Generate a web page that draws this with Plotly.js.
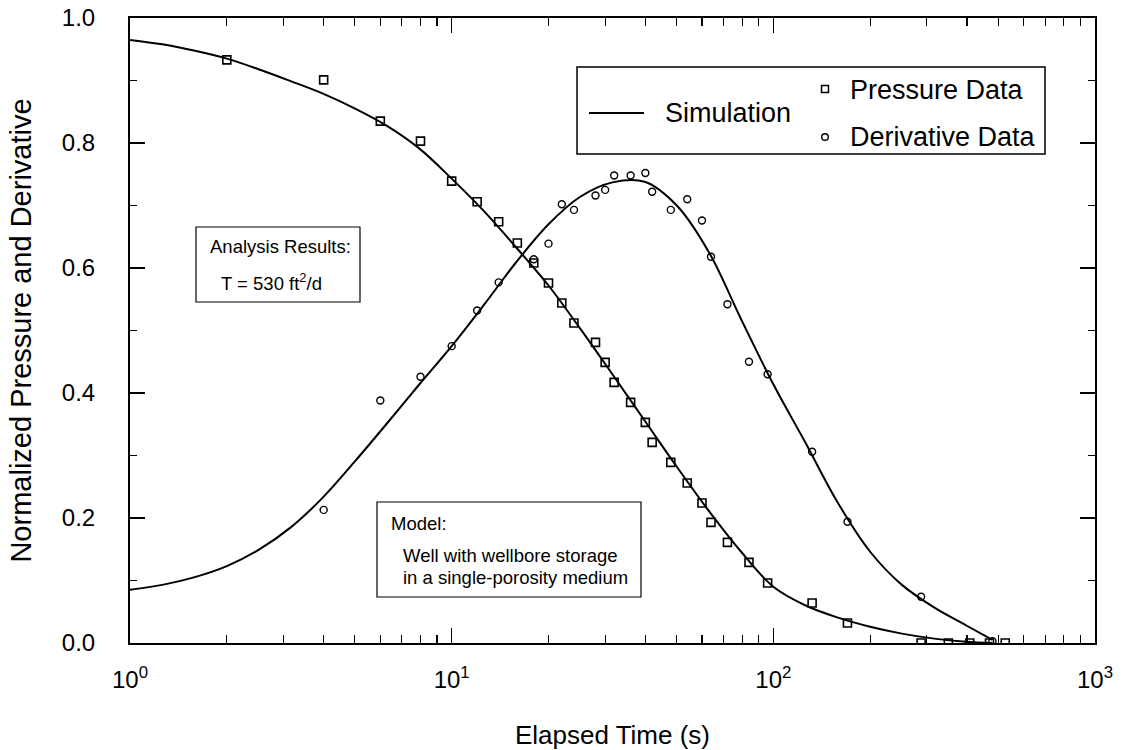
<!DOCTYPE html>
<html><head><meta charset="utf-8">
<script src="https://cdn.plot.ly/plotly-3.0.1.min.js"></script>
<style>html,body{margin:0;padding:0;background:#fff;}#chart{width:1122px;height:750px;}</style>
</head><body><div id="chart"></div>
<script>
// ---- data ----
const pressureTime = [2,4,6,8,10,12,14,16,18,20,22,24,28,30,32,36,40,42,48,54,60,64,72,84,96,132,170,288,350,408,470,526];
const pressureData = [0.933,0.901,0.835,0.803,0.739,0.706,0.674,0.640,0.608,0.576,0.544,0.512,0.481,0.449,0.417,0.385,0.353,0.321,0.289,0.256,0.224,0.193,0.161,0.129,0.096,0.064,0.032,0.0,0.0,0.0,0.0,0.0];

const derivTime = [4,6,8,10,12,14,18,20,22,24,28,30,32,36,40,42,48,54,60,64,72,84,96,132,170,288,480];
const derivData = [0.213,0.388,0.426,0.475,0.532,0.577,0.614,0.639,0.702,0.693,0.716,0.725,0.748,0.748,0.752,0.722,0.693,0.710,0.676,0.618,0.542,0.450,0.430,0.306,0.194,0.074,0.003];

// simulation curves, read at roughly even log-spaced times
const simTime = [1,1.26,1.58,2,2.51,3.16,3.98,5.01,6.31,7.94,10,12.6,15.8,20,25.1,31.6,39.8,50.1,63.1,79.4,100,126,158,200,251,316,398,480];
const simPressure = [0.965,0.958,0.948,0.935,0.918,0.899,0.879,0.855,0.827,0.791,0.743,0.691,0.634,0.572,0.503,0.430,0.356,0.282,0.211,0.146,0.090,0.060,0.041,0.026,0.015,0.007,0.002,0.0];
const simDeriv = [0.085,0.093,0.105,0.123,0.149,0.185,0.233,0.291,0.352,0.414,0.475,0.541,0.608,0.670,0.714,0.737,0.738,0.700,0.625,0.518,0.414,0.320,0.226,0.146,0.093,0.057,0.028,0.005];

const xTickVals = [1,10,100,1000];
const xTickText = ['10<sup>0</sup>','10<sup>1</sup>','10<sup>2</sup>','10<sup>3</sup>'];

const legendLabels = ['Simulation','Pressure Data','Derivative Data'];
const resultsText = ['Analysis Results:','T = 530 ft<sup>2</sup>/d'];
const modelText = ['Model:','Well with wellbore storage','in a single-porosity medium'];

// ---- layout helpers (pixel -> paper) ----
const L = 130, R = 1095, T = 18, B = 643;
const px = v => (v - L) / (R - L);
const py = v => (B - v) / (B - T);
const FONT = 'Liberation Sans, Arial, Helvetica, sans-serif';

const traces = [
  {x: simTime, y: simPressure, mode: 'lines', line: {color: '#000', width: 2, shape: 'spline', smoothing: 1}, showlegend: false, hoverinfo: 'skip'},
  {x: simTime, y: simDeriv, mode: 'lines', line: {color: '#000', width: 2, shape: 'spline', smoothing: 1}, showlegend: false, hoverinfo: 'skip'},
  {x: pressureTime, y: pressureData, mode: 'markers', marker: {symbol: 'square-open', size: 8, color: '#000', line: {width: 1.6}}, showlegend: false},
  {x: derivTime, y: derivData, mode: 'markers', marker: {symbol: 'circle-open', size: 7, color: '#000', line: {width: 1.4}}, showlegend: false}
];

const shapes = [
  // legend box
  {type: 'rect', xref: 'paper', yref: 'paper', x0: px(577), x1: px(1045), y0: py(154), y1: py(67), line: {color: '#000', width: 1.5}, fillcolor: 'rgba(0,0,0,0)'},
  {type: 'line', xref: 'paper', yref: 'paper', x0: px(589), x1: px(644), y0: py(113), y1: py(113), line: {color: '#000', width: 2}},
  {type: 'rect', xref: 'paper', yref: 'paper', xsizemode: 'pixel', ysizemode: 'pixel', xanchor: px(825), yanchor: py(89), x0: -3.5, x1: 3.5, y0: -3.5, y1: 3.5, line: {color: '#000', width: 1.5}},
  {type: 'circle', xref: 'paper', yref: 'paper', xsizemode: 'pixel', ysizemode: 'pixel', xanchor: px(825), yanchor: py(137), x0: -3.3, x1: 3.3, y0: -3.3, y1: 3.3, line: {color: '#000', width: 1.4}},
  // analysis results box
  {type: 'rect', xref: 'paper', yref: 'paper', x0: px(196), x1: px(360), y0: py(302), y1: py(227), line: {color: '#000', width: 1.2}},
  // model box
  {type: 'rect', xref: 'paper', yref: 'paper', x0: px(377), x1: px(641), y0: py(597), y1: py(502), line: {color: '#000', width: 1.2}}
];

const ann = (x, y, text, size) => ({xref: 'paper', yref: 'paper', x: px(x), y: py(y), xanchor: 'left', yanchor: 'middle', text: text, showarrow: false, font: {family: FONT, size: size, color: '#000'}});

const annotations = [
  ann(663, 113, legendLabels[0], 27),
  ann(848, 90, legendLabels[1], 27),
  ann(848, 137, legendLabels[2], 27),
  ann(208, 247, resultsText[0], 18.5),
  ann(219, 282, resultsText[1], 18.5),
  ann(389, 523, modelText[0], 18.5),
  ann(401, 555, modelText[1], 18.5),
  ann(401, 577, modelText[2], 18.5)
];

const layout = {
  width: 1122, height: 750,
  margin: {l: L, r: 1122 - R, t: T, b: 750 - B},
  paper_bgcolor: '#fff', plot_bgcolor: '#fff',
  showlegend: false,
  font: {family: FONT, color: '#000'},
  xaxis: {
    type: 'log', range: [0, 3], showgrid: false, zeroline: false,
    showline: true, linecolor: '#000', linewidth: 2, mirror: 'ticks',
    ticks: 'inside', ticklen: 15, tickwidth: 1.5, tickcolor: '#000',
    tickvals: xTickVals, ticktext: xTickText,
    tickfont: {family: FONT, size: 24, color: '#000'},
    ticklabelstandoff: 14,
    minor: {ticks: 'inside', ticklen: 8, tickwidth: 1.2, tickcolor: '#000', dtick: 'D1', showgrid: false},
    title: {text: 'Elapsed Time (s)', font: {family: FONT, size: 26, color: '#000'}, standoff: 36}
  },
  yaxis: {
    range: [0, 1], showgrid: false, zeroline: false,
    showline: true, linecolor: '#000', linewidth: 2, mirror: 'ticks',
    ticks: 'inside', ticklen: 15, tickwidth: 1.5, tickcolor: '#000',
    dtick: 0.2, tick0: 0, tickformat: '.1f',
    tickfont: {family: FONT, size: 24, color: '#000'},
    ticklabelstandoff: 28,
    minor: {ticks: 'inside', ticklen: 7, tickwidth: 1.2, tickcolor: '#000', dtick: 0.1, showgrid: false},
    title: {text: 'Normalized Pressure and Derivative', font: {family: FONT, size: 29, color: '#000'}, standoff: 22}
  },
  shapes: shapes,
  annotations: annotations
};

Plotly.newPlot('chart', traces, layout, {staticPlot: true, displayModeBar: false});
</script>
</body></html>
